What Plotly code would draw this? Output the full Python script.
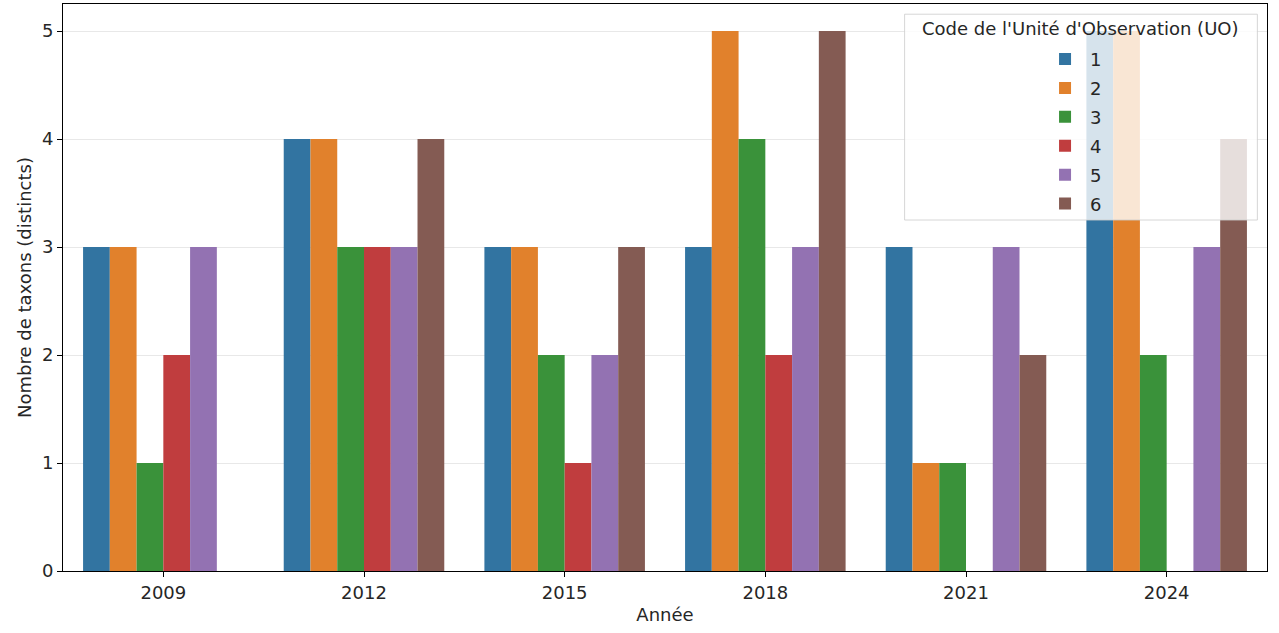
import plotly.graph_objects as go

years = ["2009", "2012", "2015", "2018", "2021", "2024"]
uo_codes = ["1", "2", "3", "4", "5", "6"]
uo1 = [3, 4, 3, 3, 3, 5]
uo2 = [3, 4, 3, 5, 1, 5]
uo3 = [1, 3, 2, 4, 1, 2]
uo4 = [2, 3, 1, 2, None, None]
uo5 = [3, 3, 2, 3, 3, 3]
uo6 = [None, 4, 3, 5, 2, 4]
series = [uo1, uo2, uo3, uo4, uo5, uo6]
colors = ["#3274a1", "#e1812c", "#3a923a", "#c03d3e", "#9372b2", "#845b53"]

FONT = "DejaVu Sans"
FS = 18
fig = go.Figure()
for code, vals, col in zip(uo_codes, series, colors):
    fig.add_trace(go.Bar(
        x=years, y=vals, name=code, marker_color=col,
        marker_line_width=0, legendgroup=code,
    ))

fig.update_layout(
    width=1279, height=633,
    margin=dict(l=63, r=12, t=4, b=62),
    plot_bgcolor="white", paper_bgcolor="white",
    barmode="group", bargap=0.2, bargroupgap=0,
    font=dict(family=FONT, size=FS, color="#262626"),
    showlegend=True,
    legend=dict(
        x=0.8115, y=0.935, xanchor="left", yanchor="top",
        bgcolor="rgba(0,0,0,0)", borderwidth=0,
        font=dict(size=FS, family=FONT, color="#262626"),
        tracegroupgap=2.5, itemwidth=40, traceorder="grouped",
    ),
    shapes=[dict(
        type="rect", xref="paper", yref="paper",
        x0=0.699, x1=0.992, y0=0.619, y1=0.982,
        fillcolor="rgba(255,255,255,0.8)",
        line=dict(color="rgba(204,204,204,0.8)", width=1),
        layer="above",
    )],
    annotations=[dict(
        text="Code de l'Unité d'Observation (UO)", xref="paper", yref="paper",
        x=0.845, y=0.956, xanchor="center", yanchor="middle", showarrow=False,
        font=dict(size=FS, family=FONT, color="#262626"),
    )],
)
fig.update_xaxes(
    type="category", range=[-0.5, 5.5],
    title=dict(text="Année", font=dict(size=FS, family=FONT), standoff=6),
    showline=True, linecolor="black", linewidth=1, mirror=True,
    ticks="outside", ticklen=5, tickcolor="black", showgrid=False,
)
fig.update_yaxes(
    range=[0, 5.25], tickvals=[0, 1, 2, 3, 4, 5],
    title=dict(text="Nombre de taxons (distincts)", font=dict(size=FS, family=FONT), standoff=5),
    showline=True, linecolor="black", linewidth=1, mirror=True,
    ticks="outside", ticklen=5, tickcolor="black",
    showgrid=True, gridcolor="#e8e8e8", gridwidth=1, zeroline=False,
)
fig.write_html("out.html", config={"displayModeBar": False},
               post_script="document.body.style.margin='0px';")
